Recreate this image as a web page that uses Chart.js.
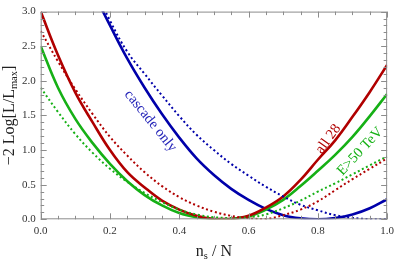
<!DOCTYPE html>
<html>
<head>
<meta charset="utf-8">
<script src="https://cdn.jsdelivr.net/npm/chart.js@4.4.0/dist/chart.umd.min.js"></script>
<style>
  html, body { margin: 0; padding: 0; background: #fff; }
  #wrap { width: 399px; height: 261px; }
</style>
</head>
<body>
<div id="wrap"><canvas id="lik"></canvas></div>
<script>
// n_s / N sample points
const xs = [0.00, 0.05, 0.10, 0.15, 0.20, 0.25, 0.30, 0.35, 0.40, 0.45, 0.50,
            0.55, 0.60, 0.65, 0.70, 0.75, 0.80, 0.85, 0.90, 0.95, 1.00];

// -2 Log[L/Lmax]
const all28      = [3.00, 2.37, 1.83, 1.40, 1.00, 0.68, 0.46, 0.27, 0.14, 0.05, 0.005,
                    0.005, 0.05, 0.17, 0.33, 0.57, 0.86, 1.14, 1.48, 1.84, 2.23];
const all28Dot   = [2.72, 2.28, 1.88, 1.52, 1.19, 0.92, 0.68, 0.48, 0.32, 0.20, 0.11,
                    0.05, 0.015, 0.005, 0.06, 0.14, 0.26, 0.42, 0.58, 0.73, 0.88];
const e50        = [2.50, 1.90, 1.45, 1.10, 0.80, 0.55, 0.35, 0.20, 0.09, 0.03, 0.002,
                    0.005, 0.04, 0.14, 0.28, 0.48, 0.70, 0.93, 1.19, 1.49, 1.81];
const e50Dot     = [1.90, 1.55, 1.23, 0.96, 0.73, 0.54, 0.38, 0.25, 0.14, 0.07, 0.03,
                    0.02, 0.03, 0.07, 0.16, 0.27, 0.40, 0.52, 0.65, 0.78, 0.91];
const cascade    = [null, null, null, 3.30, 2.80, 2.32, 1.90, 1.52, 1.18, 0.88, 0.64,
                    0.44, 0.28, 0.15, 0.06, 0.015, 0.0, 0.02, 0.07, 0.16, 0.29];
const cascadeDot = [null, null, null, 3.40, 2.87, 2.42, 2.10, 1.79, 1.49, 1.22, 1.00,
                    0.80, 0.63, 0.47, 0.33, 0.21, 0.13, 0.06, 0.02, 0.003, 0.0];

// curve labels: text, x, y (data units), angle (deg)
const notes = [
  { text: 'cascade only', x: 0.317, y: 1.42, angle: 51, color: '#2424b8' },
  { text: 'all 28',       x: 0.830, y: 1.16, angle: -54, color: '#b00000' },
  { text: 'E>50 TeV',     x: 0.922, y: 0.98, angle: -47, color: '#14b014' }
];

const RED = '#b00000', GREEN = '#16b016', BLUE = '#0000aa';

function pts(ys) {
  return xs.map((x, i) => ({ x: x, y: ys[i] })).filter(p => p.y !== null);
}

const serif = '"Liberation Serif", "DejaVu Serif", serif';

// frame, inward ticks, axis titles and curve labels
const framePlugin = {
  id: 'frame',
  afterDatasetsDraw(chart) {
    const { ctx, chartArea: a, scales } = chart;
    const sx = scales.x, sy = scales.y;
    ctx.save();
    ctx.strokeStyle = '#8c8c8c';
    ctx.lineWidth = 1;
    ctx.strokeRect(a.left + 0.5, a.top + 0.5, a.right - a.left - 1, a.bottom - a.top - 1);
    ctx.beginPath();
    for (let i = 0; i <= 20; i++) {
      const px = Math.round(sx.getPixelForValue(i * 0.05)) + 0.5;
      const len = i % 4 === 0 ? 6 : 3.5;
      ctx.moveTo(px, a.bottom); ctx.lineTo(px, a.bottom - len);
      ctx.moveTo(px, a.top); ctx.lineTo(px, a.top + len);
    }
    for (let i = 0; i <= 30; i++) {
      const py = Math.round(sy.getPixelForValue(i * 0.1)) + 0.5;
      const len = i % 5 === 0 ? 6 : 3.5;
      ctx.moveTo(a.left, py); ctx.lineTo(a.left + len, py);
      ctx.moveTo(a.right, py); ctx.lineTo(a.right - len, py);
    }
    ctx.stroke();

    // curve labels
    ctx.font = '14.5px ' + serif;
    ctx.textAlign = 'center';
    ctx.textBaseline = 'middle';
    notes.forEach(n => {
      ctx.save();
      ctx.translate(sx.getPixelForValue(n.x), sy.getPixelForValue(n.y));
      ctx.rotate(n.angle * Math.PI / 180);
      ctx.fillStyle = n.color;
      ctx.fillText(n.text, 0, 0);
      ctx.restore();
    });

    // x title: n_s / N
    ctx.fillStyle = '#222';
    ctx.textAlign = 'left';
    ctx.textBaseline = 'alphabetic';
    const big = '16px ' + serif, small = '10.5px ' + serif;
    let parts = [['n', big, 0], ['s', small, 3], [' / N', big, 0]];
    let w = 0;
    parts.forEach(p => { ctx.font = p[1]; w += ctx.measureText(p[0]).width; });
    let cx = (a.left + a.right) / 2 - w / 2;
    parts.forEach(p => {
      ctx.font = p[1];
      ctx.fillText(p[0], cx, 256 + p[2]);
      cx += ctx.measureText(p[0]).width;
    });

    // y title: −2 Log[L/L_max]
    ctx.save();
    ctx.translate(14, (a.top + a.bottom) / 2);
    ctx.rotate(-Math.PI / 2);
    parts = [['\u22122 Log[L/L', big, 0], ['max', small, 3], [']', big, 0]];
    w = 0;
    parts.forEach(p => { ctx.font = p[1]; w += ctx.measureText(p[0]).width; });
    cx = -w / 2;
    parts.forEach(p => {
      ctx.font = p[1];
      ctx.fillText(p[0], cx, 0 + p[2]);
      cx += ctx.measureText(p[0]).width;
    });
    ctx.restore();
    ctx.restore();
  }
};

const solid = (data, color) => ({
  data: pts(data), borderColor: color, borderWidth: 2.6, pointRadius: 0,
  tension: 0.4, fill: false
});
const dotted = (data, color) => ({
  data: pts(data), borderColor: color, borderWidth: 2, pointRadius: 0,
  borderDash: [2, 2.6], tension: 0.4, fill: false
});

new Chart(document.getElementById('lik'), {
  type: 'line',
  data: {
    datasets: [
      dotted(all28Dot, RED),
      dotted(e50Dot, GREEN),
      dotted(cascadeDot, BLUE),
      solid(all28, RED),
      solid(e50, GREEN),
      solid(cascade, BLUE)
    ]
  },
  options: {
    responsive: true,
    maintainAspectRatio: false,
    animation: false,
    layout: { padding: { top: 5, right: 7, left: 0, bottom: 0 } },
    plugins: { legend: { display: false }, tooltip: { enabled: false } },
    scales: {
      x: {
        type: 'linear', min: 0, max: 1,
        grid: { display: false, drawTicks: false },
        border: { display: false },
        afterFit: s => { s.height = 41.7; },
        ticks: {
          stepSize: 0.2, padding: 5, color: '#333',
          font: { family: serif, size: 11 },
          callback: v => v.toFixed(1),
          maxRotation: 0
        }
      },
      y: {
        min: 0, max: 3,
        grid: { display: false, drawTicks: false },
        border: { display: false },
        afterFit: s => { s.width = 40.7; },
        ticks: {
          stepSize: 0.5, padding: 5, color: '#333',
          font: { family: serif, size: 11 },
          callback: v => v.toFixed(1)
        }
      }
    }
  },
  plugins: [framePlugin]
});
</script>
</body>
</html>
